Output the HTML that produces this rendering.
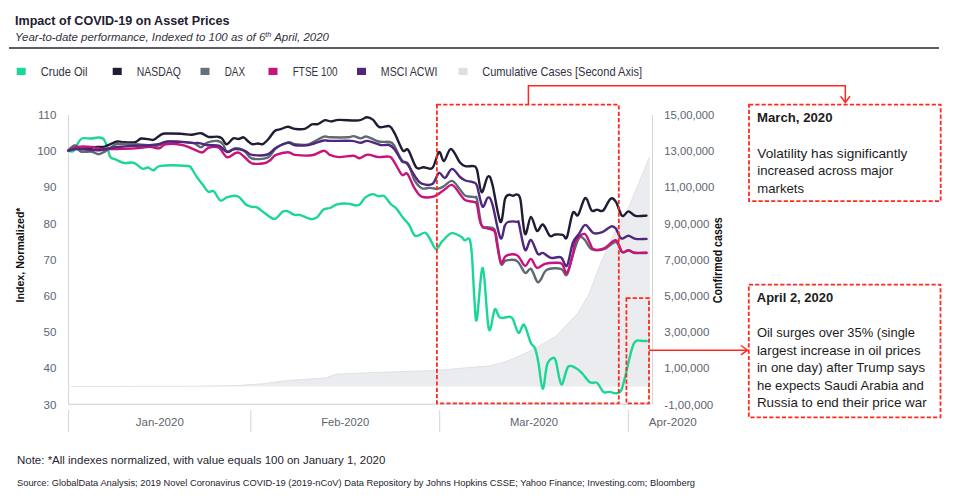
<!DOCTYPE html>
<html><head><meta charset="utf-8"><style>
html,body{margin:0;padding:0;background:#fff;width:960px;height:501px;overflow:hidden}
svg{display:block;font-family:"Liberation Sans", sans-serif}
</style></head><body>
<svg width="960" height="501" viewBox="0 0 960 501">
<rect width="960" height="501" fill="#fff"/>
<text x="15.0" y="25.3" font-size="12.30" fill="#22202f" font-weight="bold" font-style="normal" text-anchor="start" textLength="214.5" lengthAdjust="spacingAndGlyphs">Impact of COVID-19 on Asset Prices</text>
<text x="15" y="41.3" font-size="11" fill="#33313f" font-style="italic" textLength="314" lengthAdjust="spacingAndGlyphs">Year-to-date performance, Indexed to 100 as of 6<tspan font-size="7" dy="-4">th</tspan><tspan dy="4"> April, 2020</tspan></text>
<rect x="9" y="47" width="930" height="2" fill="#5e5b6b"/>
<rect x="16.7" y="67.8" width="9" height="7.2" fill="#1ad794"/>
<text x="40.8" y="75.9" font-size="11.90" fill="#34323f" font-weight="normal" font-style="normal" text-anchor="start" textLength="46.7" lengthAdjust="spacingAndGlyphs">Crude Oil</text>
<rect x="112.7" y="67.8" width="9" height="7.2" fill="#201c33"/>
<text x="136.7" y="75.9" font-size="11.90" fill="#34323f" font-weight="normal" font-style="normal" text-anchor="start" textLength="44.1" lengthAdjust="spacingAndGlyphs">NASDAQ</text>
<rect x="200.5" y="67.8" width="9" height="7.2" fill="#66707a"/>
<text x="224.7" y="75.9" font-size="11.90" fill="#34323f" font-weight="normal" font-style="normal" text-anchor="start" textLength="20.3" lengthAdjust="spacingAndGlyphs">DAX</text>
<rect x="268.5" y="67.8" width="9" height="7.2" fill="#c8137f"/>
<text x="292.8" y="75.9" font-size="11.90" fill="#34323f" font-weight="normal" font-style="normal" text-anchor="start" textLength="44.7" lengthAdjust="spacingAndGlyphs">FTSE 100</text>
<rect x="357.0" y="67.8" width="9" height="7.2" fill="#4f277c"/>
<text x="380.8" y="75.9" font-size="11.90" fill="#34323f" font-weight="normal" font-style="normal" text-anchor="start" textLength="56.7" lengthAdjust="spacingAndGlyphs">MSCI ACWI</text>
<rect x="458.5" y="67.8" width="9" height="7.2" fill="#dcdfe3"/>
<text x="482.2" y="75.9" font-size="11.90" fill="#34323f" font-weight="normal" font-style="normal" text-anchor="start" textLength="159.8" lengthAdjust="spacingAndGlyphs">Cumulative Cases [Second Axis]</text>
<path d="M71.0 386.5 L200.0 386.2 L237.5 385.5 L262.5 383.8 L287.5 380.5 L325.0 378.0 L336.2 374.2 L360.0 373.0 L435.0 370.5 L490.0 365.8 L503.2 362.5 L512.0 359.2 L534.0 349.3 L555.9 336.2 L577.9 313.1 L588.6 294.9 L601.2 262.0 L613.8 234.0 L629.2 206.0 L640.8 178.0 L649.5 157.0 L649.8 157.2 L649.8 386.5 Z" fill="#ebecef" stroke="none"/>
<path d="M71.0 386.5 L200.0 386.2 L237.5 385.5 L262.5 383.8 L287.5 380.5 L325.0 378.0 L336.2 374.2 L360.0 373.0 L435.0 370.5 L490.0 365.8 L503.2 362.5 L512.0 359.2 L534.0 349.3 L555.9 336.2 L577.9 313.1 L588.6 294.9 L601.2 262.0 L613.8 234.0 L629.2 206.0 L640.8 178.0 L649.5 157.0" fill="none" stroke="#dadce0" stroke-width="0.8"/>
<rect x="68.1" y="115" width="1" height="289.5" fill="#d4d4d4"/>
<rect x="68.1" y="403.7" width="583" height="1.2" fill="#d9d9d9"/>
<rect x="652" y="115" width="1" height="289.5" fill="#d4d4d4"/>
<rect x="68.1" y="410" width="1" height="22" fill="#d4d4d4"/>
<rect x="250.3" y="410" width="1" height="22" fill="#d4d4d4"/>
<rect x="439.2" y="410" width="1" height="22" fill="#d4d4d4"/>
<rect x="627.9" y="410" width="1" height="22" fill="#d4d4d4"/>
<text x="56.5" y="119.0" font-size="11.60" fill="#5d6670" font-weight="normal" font-style="normal" text-anchor="end">110</text>
<text x="56.5" y="155.2" font-size="11.60" fill="#5d6670" font-weight="normal" font-style="normal" text-anchor="end">100</text>
<text x="56.5" y="191.4" font-size="11.60" fill="#5d6670" font-weight="normal" font-style="normal" text-anchor="end">90</text>
<text x="56.5" y="227.6" font-size="11.60" fill="#5d6670" font-weight="normal" font-style="normal" text-anchor="end">80</text>
<text x="56.5" y="263.8" font-size="11.60" fill="#5d6670" font-weight="normal" font-style="normal" text-anchor="end">70</text>
<text x="56.5" y="300.0" font-size="11.60" fill="#5d6670" font-weight="normal" font-style="normal" text-anchor="end">60</text>
<text x="56.5" y="336.2" font-size="11.60" fill="#5d6670" font-weight="normal" font-style="normal" text-anchor="end">50</text>
<text x="56.5" y="372.4" font-size="11.60" fill="#5d6670" font-weight="normal" font-style="normal" text-anchor="end">40</text>
<text x="56.5" y="408.6" font-size="11.60" fill="#5d6670" font-weight="normal" font-style="normal" text-anchor="end">30</text>
<text x="664.3" y="119.0" font-size="11.60" fill="#5d6670" font-weight="normal" font-style="normal" text-anchor="start" textLength="50.0" lengthAdjust="spacingAndGlyphs">15,00,000</text>
<text x="664.3" y="155.2" font-size="11.60" fill="#5d6670" font-weight="normal" font-style="normal" text-anchor="start" textLength="50.0" lengthAdjust="spacingAndGlyphs">13,00,000</text>
<text x="664.3" y="191.4" font-size="11.60" fill="#5d6670" font-weight="normal" font-style="normal" text-anchor="start" textLength="50.0" lengthAdjust="spacingAndGlyphs">11,00,000</text>
<text x="664.3" y="227.6" font-size="11.60" fill="#5d6670" font-weight="normal" font-style="normal" text-anchor="start">9,00,000</text>
<text x="664.3" y="263.8" font-size="11.60" fill="#5d6670" font-weight="normal" font-style="normal" text-anchor="start">7,00,000</text>
<text x="664.3" y="300.0" font-size="11.60" fill="#5d6670" font-weight="normal" font-style="normal" text-anchor="start">5,00,000</text>
<text x="664.3" y="336.2" font-size="11.60" fill="#5d6670" font-weight="normal" font-style="normal" text-anchor="start">3,00,000</text>
<text x="664.3" y="372.4" font-size="11.60" fill="#5d6670" font-weight="normal" font-style="normal" text-anchor="start">1,00,000</text>
<text x="664.3" y="408.6" font-size="11.60" fill="#5d6670" font-weight="normal" font-style="normal" text-anchor="start">-1,00,000</text>
<text x="159.8" y="425.5" font-size="11.50" fill="#5d6670" font-weight="normal" font-style="normal" text-anchor="middle" textLength="48.0" lengthAdjust="spacingAndGlyphs">Jan-2020</text>
<text x="345.2" y="425.5" font-size="11.50" fill="#5d6670" font-weight="normal" font-style="normal" text-anchor="middle" textLength="48.0" lengthAdjust="spacingAndGlyphs">Feb-2020</text>
<text x="534.0" y="425.5" font-size="11.50" fill="#5d6670" font-weight="normal" font-style="normal" text-anchor="middle" textLength="48.0" lengthAdjust="spacingAndGlyphs">Mar-2020</text>
<text x="672.7" y="425.5" font-size="11.50" fill="#5d6670" font-weight="normal" font-style="normal" text-anchor="middle" textLength="48.0" lengthAdjust="spacingAndGlyphs">Apr-2020</text>
<text transform="translate(24.3 255) rotate(-90)" x="0" y="0" font-size="11.6" font-weight="bold" fill="#111" text-anchor="middle" textLength="95" lengthAdjust="spacingAndGlyphs">Index, Normalized*</text>
<text transform="translate(722 260.2) rotate(-90)" x="0" y="0" font-size="12" font-weight="bold" fill="#111" text-anchor="middle" textLength="86" lengthAdjust="spacingAndGlyphs">Confirmed cases</text>
<path d="M68.5 151.0 C69.3 151.0 72.0 152.2 73.5 151.0 C75.0 149.8 76.3 145.8 77.7 143.8 C79.1 141.7 79.6 139.4 81.9 138.5 C84.2 137.6 88.5 138.7 91.2 138.5 C94.0 138.3 96.4 137.4 98.5 137.5 C100.6 137.6 102.2 137.5 103.8 139.2 C105.2 140.9 106.4 144.7 107.5 147.7 C108.6 150.7 108.9 155.0 110.3 157.0 C111.7 159.0 113.6 158.6 115.9 159.6 C118.2 160.6 121.2 162.5 124.2 163.0 C127.2 163.5 131.0 161.9 134.0 162.8 C137.0 163.8 140.1 167.9 142.4 168.7 C144.7 169.5 146.1 167.2 148.0 167.5 C149.9 167.8 151.5 170.6 153.6 170.3 C155.7 170.0 154.9 166.6 160.6 165.9 C166.2 165.2 182.3 165.6 187.5 166.0 C192.7 166.4 189.9 166.7 191.5 168.6 C193.1 170.5 195.2 174.7 197.1 177.4 C199.0 180.1 200.8 182.2 202.7 184.6 C204.6 187.0 206.4 190.6 208.3 191.7 C210.2 192.8 211.9 189.9 213.9 191.4 C215.9 192.9 218.2 199.5 220.3 200.5 C222.4 201.5 224.3 198.1 226.7 197.3 C229.1 196.5 232.6 195.7 234.7 195.7 C236.8 195.7 237.7 195.8 239.5 197.3 C241.3 198.8 243.7 202.9 245.8 204.5 C247.9 206.1 250.3 206.4 252.2 206.9 C254.1 207.4 254.9 206.3 257.0 207.4 C259.1 208.5 262.1 211.4 265.0 213.3 C267.9 215.2 271.7 219.2 274.6 218.9 C277.5 218.6 280.5 213.0 282.6 211.7 C284.7 210.4 285.4 210.7 287.4 211.2 C289.4 211.7 292.6 214.3 294.6 214.9 C296.6 215.5 296.9 214.1 299.6 214.8 C302.3 215.5 307.9 218.7 310.8 219.1 C313.7 219.5 315.1 218.7 317.2 217.1 C319.3 215.5 321.4 211.1 323.5 209.6 C325.6 208.1 327.7 208.9 330.0 208.0 C332.3 207.1 334.2 205.0 337.1 204.3 C340.0 203.6 343.9 203.4 347.5 203.6 C351.1 203.8 355.8 206.2 358.7 205.2 C361.6 204.2 362.8 199.4 365.1 197.6 C367.4 195.8 370.0 194.3 372.3 194.1 C374.6 193.9 376.7 196.0 378.7 196.3 C380.7 196.6 382.2 194.7 384.2 196.0 C386.2 197.3 388.6 201.9 390.6 204.0 C392.6 206.1 394.1 206.0 396.2 208.4 C398.3 210.8 401.3 215.6 403.4 218.3 C405.5 221.0 407.0 221.8 409.0 224.7 C411.0 227.6 412.7 234.6 415.4 235.9 C418.1 237.2 422.6 232.2 425.0 232.7 C427.4 233.2 428.2 236.3 430.0 239.0 C431.8 241.7 434.0 248.6 436.0 249.0 C438.0 249.4 439.4 244.2 442.0 241.6 C444.6 239.0 448.4 234.0 451.6 233.2 C454.8 232.4 459.0 235.6 461.2 236.8 C463.4 238.0 463.4 240.0 464.8 240.4 C466.2 240.8 468.4 236.6 469.6 239.2 C470.8 241.8 471.2 246.0 472.0 256.0 C472.8 266.0 473.6 288.4 474.4 299.0 C475.2 309.6 475.4 324.7 476.8 319.5 C478.2 314.3 480.8 266.4 482.8 268.0 C484.8 269.6 486.8 322.1 488.8 329.0 C490.8 335.9 493.0 311.2 494.8 309.3 C496.6 307.4 497.4 316.2 499.9 317.5 C502.4 318.8 507.6 316.4 509.8 316.8 C512.0 317.2 511.6 317.0 513.1 319.7 C514.6 322.4 516.8 332.1 518.6 332.9 C520.4 333.7 522.1 323.1 524.1 324.7 C526.1 326.3 528.9 338.8 530.7 342.7 C532.5 346.6 533.7 344.9 535.0 348.2 C536.3 351.5 537.1 355.7 538.4 362.5 C539.7 369.3 541.2 388.5 542.7 388.9 C544.2 389.3 545.5 369.8 547.1 364.7 C548.8 359.6 551.1 358.7 552.6 358.1 C554.1 357.6 554.4 357.0 555.9 361.4 C557.4 365.8 559.4 383.6 561.4 384.5 C563.4 385.4 565.6 369.6 568.0 366.9 C570.4 364.1 573.3 366.9 575.7 368.0 C578.1 369.1 579.9 371.1 582.3 373.5 C584.7 375.9 587.5 380.7 590.0 382.3 C592.5 383.9 594.9 381.3 597.1 382.9 C599.3 384.5 601.3 390.4 603.4 391.9 C605.5 393.4 607.6 391.7 609.7 391.9 C611.8 392.1 614.1 393.6 616.0 393.3 C617.9 393.0 619.7 393.3 621.3 390.1 C622.9 386.9 624.3 379.7 625.8 374.0 C627.2 368.3 628.7 361.0 630.0 356.0 C631.3 351.0 632.4 346.6 633.6 344.0 C634.8 341.4 635.8 341.1 637.0 340.6 C638.2 340.1 639.4 340.7 641.0 340.8 C642.6 340.9 645.8 341.0 646.7 341.0" fill="none" stroke="#1ad794" stroke-width="2.4" stroke-linejoin="round" stroke-linecap="round"/>
<path d="M68.5 150.5 C69.5 149.7 72.7 146.1 74.6 145.8 C76.5 145.5 77.4 148.1 80.0 148.5 C82.6 148.9 87.2 148.3 90.0 148.0 C92.8 147.7 94.2 147.1 96.5 146.9 C98.8 146.7 101.5 147.3 103.8 146.9 C106.0 146.5 107.7 145.2 110.0 144.3 C112.3 143.4 115.2 141.8 117.3 141.5 C119.4 141.2 119.5 142.1 122.5 142.2 C125.5 142.3 131.9 142.8 135.0 142.2 C138.1 141.6 138.7 138.9 141.2 138.5 C143.8 138.1 148.4 139.4 150.6 139.6 C152.8 139.8 152.4 140.4 154.2 139.5 C156.0 138.6 159.4 135.3 161.5 134.3 C163.6 133.3 163.4 133.6 166.7 133.5 C170.0 133.4 177.1 133.5 181.2 133.8 C185.4 134.0 188.4 134.9 191.7 134.8 C195.0 134.7 198.2 132.8 201.0 133.2 C203.8 133.5 205.5 136.3 208.3 136.9 C211.1 137.5 215.4 136.4 217.7 136.7 C220.0 136.9 220.4 137.2 221.9 138.4 C223.4 139.7 224.7 144.2 226.6 144.2 C228.5 144.2 231.3 139.3 233.3 138.4 C235.3 137.5 236.8 139.2 238.5 139.0 C240.2 138.8 242.2 137.1 243.6 137.3 C245.0 137.6 245.8 139.4 247.2 140.5 C248.6 141.6 250.2 143.6 252.0 144.1 C253.8 144.6 256.2 143.5 258.0 143.5 C259.8 143.5 261.0 144.9 262.8 144.1 C264.5 143.3 266.7 140.9 268.7 138.7 C270.7 136.5 272.7 132.6 274.7 131.0 C276.7 129.4 278.5 129.9 280.7 129.2 C282.9 128.5 285.5 126.8 287.9 126.8 C290.3 126.8 292.3 128.6 295.1 128.9 C297.9 129.2 301.9 129.7 304.7 128.9 C307.5 128.2 309.7 125.2 311.9 124.4 C314.1 123.6 315.6 124.8 317.8 124.1 C320.0 123.4 322.8 120.7 325.0 120.2 C327.2 119.8 328.7 121.5 331.0 121.4 C333.3 121.4 334.4 120.1 339.0 119.9 C343.6 119.7 354.1 120.9 358.8 120.4 C363.4 120.0 364.4 117.3 366.8 117.2 C369.2 117.1 371.0 118.2 373.1 119.9 C375.2 121.6 376.7 126.0 379.4 127.1 C382.1 128.2 386.8 125.2 389.3 126.2 C391.9 127.2 392.4 129.4 394.7 133.4 C396.9 137.4 400.6 147.7 402.8 150.4 C405.1 153.2 405.9 147.1 408.2 149.9 C410.4 152.8 413.8 164.6 416.3 167.5 C418.9 170.4 420.8 167.1 423.5 167.2 C426.2 167.3 429.8 170.4 432.4 167.9 C435.0 165.4 437.1 153.2 439.0 152.0 C440.9 150.8 442.0 161.5 444.0 161.0 C446.0 160.5 448.3 148.7 451.0 149.0 C453.7 149.3 457.6 159.7 460.0 162.6 C462.4 165.5 463.1 165.6 465.4 166.2 C467.6 166.8 471.6 165.6 473.5 166.2 C475.4 166.8 475.6 165.5 477.0 169.8 C478.4 174.1 479.8 191.1 481.6 192.2 C483.4 193.3 486.0 177.9 487.8 176.6 C489.6 175.2 490.2 176.5 492.3 184.1 C494.4 191.7 498.3 219.4 500.4 221.9 C502.5 224.4 503.6 203.5 505.0 199.0 C506.4 194.5 507.7 195.3 509.0 194.8 C510.3 194.3 511.7 195.9 513.0 195.8 C514.3 195.8 515.8 193.8 517.0 194.5 C518.2 195.2 519.2 193.4 520.5 200.0 C521.8 206.6 523.3 231.1 525.0 233.9 C526.7 236.7 528.9 217.4 530.9 216.9 C532.9 216.4 534.9 229.6 536.9 230.9 C538.9 232.2 540.7 223.7 542.9 224.5 C545.1 225.3 547.9 234.2 549.9 235.9 C551.9 237.6 552.7 234.7 554.9 234.5 C557.1 234.3 560.9 234.4 562.9 234.9 C564.9 235.4 565.2 241.0 566.9 237.3 C568.5 233.6 570.9 216.6 572.8 212.9 C574.7 209.2 576.0 217.5 578.1 215.0 C580.2 212.5 583.0 198.8 585.3 198.0 C587.5 197.2 589.6 208.6 591.6 210.5 C593.6 212.4 595.1 209.6 597.0 209.6 C598.9 209.6 601.0 212.3 603.2 210.5 C605.4 208.7 608.3 200.4 610.4 198.9 C612.5 197.4 613.8 198.8 615.8 201.6 C617.8 204.4 620.0 214.3 622.1 215.9 C624.2 217.5 626.1 211.4 628.4 211.4 C630.6 211.4 632.6 215.2 635.6 215.9 C638.6 216.6 644.7 215.7 646.5 215.6" fill="none" stroke="#201c33" stroke-width="2.4" stroke-linejoin="round" stroke-linecap="round"/>
<path d="M68.5 150.5 C69.5 149.7 72.5 145.6 74.6 145.8 C76.6 146.0 78.0 150.6 80.8 151.6 C83.6 152.6 88.3 151.2 91.2 151.6 C94.2 152.0 96.2 154.2 98.5 154.2 C100.8 154.2 102.2 153.1 104.8 151.6 C107.4 150.1 112.0 146.6 114.2 145.3 C116.5 144.0 114.8 143.9 118.3 143.8 C121.8 143.6 129.7 144.1 135.0 144.3 C140.3 144.5 146.1 145.0 150.0 145.2 C153.9 145.4 155.5 146.3 158.3 145.7 C161.1 145.1 162.9 142.2 166.7 141.6 C170.5 141.0 176.7 141.7 181.2 141.9 C185.8 142.2 190.5 142.2 193.8 143.1 C197.0 144.0 198.7 147.4 201.0 147.3 C203.3 147.2 204.5 143.7 207.3 142.6 C210.1 141.5 215.1 140.7 217.7 141.0 C220.3 141.3 221.4 142.4 223.0 144.2 C224.6 145.9 224.9 150.8 227.0 151.5 C229.1 152.2 233.0 148.7 235.4 148.3 C237.8 148.0 239.9 148.7 241.7 149.4 C243.5 150.1 244.3 151.0 246.0 152.5 C247.7 154.0 248.4 157.6 252.0 158.5 C255.6 159.4 263.5 159.4 267.5 157.7 C271.5 156.0 272.6 150.9 276.0 148.3 C279.4 145.7 284.7 143.0 287.9 142.3 C291.1 141.6 291.9 143.7 295.1 144.1 C298.3 144.5 303.8 145.1 307.0 144.7 C310.2 144.3 311.4 143.0 314.2 141.7 C317.1 140.3 321.2 137.3 323.8 136.6 C326.4 135.9 326.0 137.2 330.0 137.3 C334.0 137.4 344.1 137.5 348.0 137.3 C351.9 137.1 351.3 135.9 353.4 136.1 C355.5 136.3 358.4 138.3 360.6 138.4 C362.8 138.5 363.8 136.1 366.8 136.6 C369.8 137.1 374.8 140.6 378.5 141.5 C382.2 142.4 386.8 141.4 389.3 142.0 C391.9 142.6 391.7 141.9 393.8 145.0 C395.9 148.1 399.5 157.2 401.9 160.3 C404.3 163.5 406.1 160.6 408.2 163.9 C410.3 167.2 412.2 176.1 414.5 180.1 C416.8 184.1 419.1 186.9 421.7 188.2 C424.3 189.5 427.4 187.8 430.0 187.9 C432.6 188.0 434.8 189.1 437.0 188.9 C439.2 188.7 440.5 188.2 443.0 186.9 C445.5 185.6 449.2 180.5 452.0 180.9 C454.8 181.3 457.8 187.0 460.0 189.5 C462.2 192.0 463.0 194.5 465.4 195.8 C467.8 197.1 472.5 196.5 474.4 197.1 C476.3 197.7 475.8 194.7 477.0 199.4 C478.2 204.1 479.9 220.8 481.6 225.4 C483.3 230.0 484.9 226.6 487.0 227.2 C489.1 227.8 492.5 226.9 494.1 229.0 C495.7 231.1 495.7 234.0 496.8 239.8 C497.9 245.6 499.5 260.4 501.0 263.8 C502.5 267.2 503.3 261.0 506.0 260.5 C508.7 260.0 513.8 258.8 517.0 260.9 C520.2 262.9 522.7 271.5 525.0 272.8 C527.3 274.1 528.9 267.4 530.9 268.8 C532.9 270.2 535.4 279.6 537.0 281.5 C538.6 283.4 538.9 281.9 540.5 280.0 C542.1 278.1 543.5 271.7 546.9 269.8 C550.3 267.9 557.6 268.0 560.9 268.8 C564.2 269.6 564.9 277.1 566.9 274.8 C568.9 272.5 570.8 261.0 572.8 254.9 C574.8 248.8 577.1 240.6 579.0 238.0 C580.9 235.4 582.3 237.4 584.4 239.3 C586.5 241.2 588.3 247.5 591.6 249.2 C594.9 250.8 600.1 250.4 604.1 249.2 C608.1 248.0 612.8 241.5 615.8 242.0 C618.8 242.5 620.0 250.6 622.1 252.0 C624.2 253.4 626.3 250.3 628.4 250.5 C630.5 250.7 631.7 252.6 634.7 253.0 C637.7 253.4 644.5 253.0 646.5 253.0" fill="none" stroke="#5f6a70" stroke-width="2.4" stroke-linejoin="round" stroke-linecap="round"/>
<path d="M68.5 150.5 C70.0 149.9 73.9 147.5 77.7 146.9 C81.5 146.3 87.2 146.6 91.2 146.9 C95.2 147.2 97.9 148.7 101.7 149.0 C105.5 149.3 108.7 149.1 114.2 149.0 C119.8 148.9 129.1 148.8 135.0 148.4 C140.9 148.1 145.5 146.9 149.6 146.9 C153.7 146.9 156.7 148.8 159.4 148.3 C162.1 147.9 162.0 144.8 165.6 144.2 C169.2 143.6 176.9 144.0 181.2 144.7 C185.6 145.4 188.2 147.0 191.7 148.3 C195.2 149.6 199.2 152.6 202.0 152.5 C204.8 152.4 205.5 148.6 208.3 147.8 C211.1 147.0 215.6 146.2 218.8 147.8 C221.9 149.4 224.2 156.3 227.0 157.2 C229.8 158.1 233.3 153.7 235.4 153.0 C237.5 152.3 237.8 152.1 239.6 153.0 C241.4 153.9 243.9 156.8 246.0 158.5 C248.1 160.2 249.0 162.5 252.0 163.3 C255.0 164.1 261.0 163.8 264.0 163.3 C267.0 162.8 268.0 161.7 270.0 160.3 C272.0 158.9 273.0 156.2 276.0 154.9 C279.0 153.6 284.7 152.2 287.9 152.2 C291.1 152.2 291.1 154.4 295.1 154.9 C299.1 155.4 307.1 156.0 311.9 155.3 C316.7 154.6 320.8 150.8 323.8 150.7 C326.8 150.6 327.3 153.8 329.8 154.9 C332.3 156.0 335.1 156.9 339.0 157.1 C342.9 157.2 349.9 155.6 353.4 155.8 C356.8 156.0 357.3 158.4 359.7 158.2 C362.1 158.0 364.6 154.8 367.7 154.6 C370.8 154.4 374.9 156.8 378.5 157.1 C382.1 157.4 386.8 156.0 389.3 156.7 C391.9 157.4 391.7 158.2 393.8 161.2 C395.9 164.2 399.6 172.6 401.9 174.7 C404.1 176.8 405.2 171.6 407.3 173.8 C409.4 176.1 412.1 184.4 414.5 188.2 C416.9 192.0 418.4 195.2 421.7 196.6 C425.0 197.9 430.5 197.4 434.2 196.3 C437.9 195.2 441.0 191.8 444.0 189.9 C447.0 188.0 449.3 184.2 452.0 184.9 C454.7 185.6 457.8 191.4 460.0 194.0 C462.2 196.6 463.0 199.0 465.4 200.3 C467.8 201.7 472.5 201.3 474.4 202.1 C476.3 202.8 475.8 200.9 477.0 204.8 C478.2 208.7 478.8 221.1 481.6 225.4 C484.5 229.7 491.6 227.9 494.1 230.8 C496.6 233.7 495.7 237.7 496.8 243.0 C497.9 248.3 499.5 260.7 501.0 262.8 C502.5 264.9 503.3 257.1 506.0 255.9 C508.7 254.7 513.8 253.7 517.0 255.3 C520.2 256.9 522.7 265.2 525.0 265.8 C527.3 266.4 528.9 258.6 530.9 258.9 C532.9 259.2 534.6 267.0 536.9 267.8 C539.2 268.6 541.9 264.6 544.9 263.8 C547.9 263.0 552.1 262.8 554.9 262.8 C557.7 262.8 559.9 262.1 561.9 263.8 C563.9 265.5 565.1 274.3 566.9 272.8 C568.7 271.3 571.4 260.2 572.8 254.9 C574.2 249.6 573.5 244.6 575.4 241.1 C577.3 237.6 582.0 233.6 584.4 233.9 C586.8 234.2 588.3 240.4 589.8 242.9 C591.3 245.4 591.0 248.3 593.4 249.2 C595.8 250.1 600.4 249.8 604.1 248.3 C607.8 246.8 612.8 239.6 615.8 240.2 C618.8 240.8 620.0 250.2 622.1 251.9 C624.2 253.6 626.3 250.0 628.4 250.1 C630.5 250.2 631.7 252.3 634.7 252.7 C637.7 253.1 644.5 252.7 646.5 252.7" fill="none" stroke="#c8137f" stroke-width="2.4" stroke-linejoin="round" stroke-linecap="round"/>
<path d="M68.5 150.5 C70.0 150.2 73.9 149.1 77.7 149.0 C81.5 148.9 87.2 149.8 91.2 150.0 C95.2 150.2 97.9 150.4 101.7 150.0 C105.5 149.6 108.7 148.1 114.2 147.4 C119.8 146.7 129.1 146.2 135.0 145.8 C140.9 145.5 145.7 145.6 149.6 145.3 C153.5 145.0 155.5 144.8 158.3 144.2 C161.2 143.6 162.9 142.0 166.7 141.6 C170.5 141.2 176.7 141.7 181.2 141.9 C185.8 142.2 190.8 142.9 193.8 143.1 C196.7 143.3 196.7 142.8 199.0 143.1 C201.3 143.4 204.0 144.8 207.3 145.2 C210.6 145.6 215.5 144.6 218.8 145.7 C222.0 146.8 224.6 151.4 227.0 152.0 C229.4 152.6 231.2 149.8 233.3 149.4 C235.4 149.0 237.5 149.1 239.6 149.4 C241.7 149.7 243.9 150.4 246.0 151.3 C248.1 152.2 248.4 154.4 252.0 154.9 C255.6 155.4 263.5 155.7 267.5 154.5 C271.5 153.3 272.6 149.6 276.0 147.7 C279.4 145.8 284.7 143.3 287.9 142.9 C291.1 142.5 291.9 144.9 295.1 145.3 C298.3 145.7 303.8 145.6 307.0 145.3 C310.2 145.0 311.4 144.3 314.2 143.5 C317.1 142.7 321.2 140.9 323.8 140.5 C326.4 140.1 325.4 140.8 330.0 140.9 C334.6 141.0 346.5 140.6 351.6 140.9 C356.7 141.2 357.9 142.7 360.6 142.7 C363.3 142.7 364.4 140.5 367.7 140.9 C371.0 141.3 376.7 144.3 380.3 145.0 C383.9 145.7 386.9 144.2 389.3 145.0 C391.7 145.8 392.6 146.8 394.7 149.5 C396.8 152.2 399.8 158.8 401.9 161.2 C404.0 163.6 404.9 161.1 407.3 163.9 C409.7 166.8 413.9 175.0 416.3 178.3 C418.7 181.6 419.0 182.8 421.7 183.7 C424.4 184.6 429.5 185.8 432.4 184.0 C435.3 182.2 436.9 173.9 439.0 172.9 C441.1 171.9 442.8 178.6 445.0 177.9 C447.2 177.2 449.5 169.1 452.0 168.9 C454.5 168.8 457.8 175.1 460.0 177.0 C462.2 178.9 463.1 179.6 465.4 180.5 C467.6 181.4 471.6 181.4 473.5 182.3 C475.4 183.2 475.5 181.9 477.0 185.9 C478.5 189.9 480.7 204.7 482.5 206.6 C484.3 208.5 486.2 198.0 487.8 197.6 C489.4 197.2 490.2 197.2 492.3 203.9 C494.4 210.6 498.3 234.4 500.4 238.0 C502.5 241.6 503.5 228.1 504.9 225.4 C506.2 222.7 506.4 222.5 508.5 221.9 C510.6 221.3 515.8 221.6 517.5 221.9 C519.2 222.2 517.8 219.2 519.0 223.9 C520.2 228.6 523.0 247.2 525.0 249.9 C527.0 252.6 528.8 239.2 530.9 239.9 C533.0 240.6 535.9 251.7 537.9 253.9 C539.9 256.1 540.7 252.2 542.9 252.9 C545.1 253.6 547.9 257.2 550.9 257.9 C553.9 258.6 558.2 256.0 560.9 257.3 C563.6 258.6 564.9 268.2 566.9 265.8 C568.9 263.4 570.8 248.2 572.8 242.9 C574.8 237.6 576.9 236.9 579.0 233.9 C581.1 230.9 582.9 225.1 585.3 224.9 C587.7 224.8 590.6 231.8 593.4 233.0 C596.2 234.2 599.3 233.2 602.3 232.1 C605.3 231.0 609.0 226.9 611.3 226.3 C613.5 225.7 614.1 226.5 615.8 228.5 C617.4 230.5 619.1 237.2 621.2 238.4 C623.3 239.6 626.0 235.6 628.4 235.7 C630.8 235.8 632.6 238.4 635.6 238.9 C638.6 239.4 644.7 238.9 646.5 238.9" fill="none" stroke="#4f277c" stroke-width="2.4" stroke-linejoin="round" stroke-linecap="round"/>
<rect x="436.9" y="104.6" width="181.9" height="298.8" fill="none" stroke="#ff2a1f" stroke-width="1.8" stroke-dasharray="4.2 2.1"/>
<rect x="626.4" y="298.2" width="22.6" height="105.2" fill="none" stroke="#ff2a1f" stroke-width="1.8" stroke-dasharray="4.2 2.1"/>
<rect x="749" y="104.6" width="191.7" height="96.5" fill="none" stroke="#ff2a1f" stroke-width="1.8" stroke-dasharray="4.2 2.1"/>
<rect x="748.8" y="284.6" width="191.7" height="132.7" fill="none" stroke="#ff2a1f" stroke-width="1.8" stroke-dasharray="4.2 2.1"/>
<path d="M528.4 104 V85.8 H845.3 V102" fill="none" stroke="#ff2a1f" stroke-width="1.5"/>
<path d="M840.6 96.2 L845.3 102.4 L850 96.2" fill="none" stroke="#ff2a1f" stroke-width="1.5"/>
<path d="M649 350.2 H747" fill="none" stroke="#ff2a1f" stroke-width="1.5"/>
<path d="M741 345.5 L747.5 350.2 L741 354.9" fill="none" stroke="#ff2a1f" stroke-width="1.5"/>
<text x="757.0" y="122.0" font-size="12.80" fill="#1c1c1c" font-weight="bold" font-style="normal" text-anchor="start" textLength="75.5" lengthAdjust="spacingAndGlyphs">March, 2020</text>
<text x="757.3" y="157.8" font-size="13.10" fill="#1c1c1c" font-weight="normal" font-style="normal" text-anchor="start" textLength="150.0" lengthAdjust="spacingAndGlyphs">Volatility has significantly</text>
<text x="757.3" y="175.2" font-size="13.10" fill="#1c1c1c" font-weight="normal" font-style="normal" text-anchor="start" textLength="136.0" lengthAdjust="spacingAndGlyphs">increased across major</text>
<text x="757.3" y="192.7" font-size="13.10" fill="#1c1c1c" font-weight="normal" font-style="normal" text-anchor="start" textLength="46.7" lengthAdjust="spacingAndGlyphs">markets</text>
<text x="756.8" y="301.6" font-size="12.80" fill="#1c1c1c" font-weight="bold" font-style="normal" text-anchor="start" textLength="76.3" lengthAdjust="spacingAndGlyphs">April 2, 2020</text>
<text x="756.9" y="337.4" font-size="13.10" fill="#1c1c1c" font-weight="normal" font-style="normal" text-anchor="start" textLength="158.0" lengthAdjust="spacingAndGlyphs">Oil surges over 35% (single</text>
<text x="756.9" y="354.6" font-size="13.10" fill="#1c1c1c" font-weight="normal" font-style="normal" text-anchor="start" textLength="163.7" lengthAdjust="spacingAndGlyphs">largest increase in oil prices</text>
<text x="756.9" y="372.4" font-size="13.10" fill="#1c1c1c" font-weight="normal" font-style="normal" text-anchor="start" textLength="168.2" lengthAdjust="spacingAndGlyphs">in one day) after Trump says</text>
<text x="756.9" y="389.9" font-size="13.10" fill="#1c1c1c" font-weight="normal" font-style="normal" text-anchor="start" textLength="166.9" lengthAdjust="spacingAndGlyphs">he expects Saudi Arabia and</text>
<text x="756.9" y="407.1" font-size="13.10" fill="#1c1c1c" font-weight="normal" font-style="normal" text-anchor="start" textLength="169.8" lengthAdjust="spacingAndGlyphs">Russia to end their price war</text>
<text x="17.0" y="463.7" font-size="11.80" fill="#26242f" font-weight="normal" font-style="normal" text-anchor="start" textLength="368.3" lengthAdjust="spacingAndGlyphs">Note: *All indexes normalized, with value equals 100 on January 1, 2020</text>
<text x="17.0" y="485.5" font-size="9.60" fill="#26242f" font-weight="normal" font-style="normal" text-anchor="start" textLength="678.0" lengthAdjust="spacingAndGlyphs">Source: GlobalData Analysis; 2019 Novel Coronavirus COVID-19 (2019-nCoV) Data Repository by Johns Hopkins CSSE; Yahoo Finance; Investing.com; Bloomberg</text>
</svg>
</body></html>
